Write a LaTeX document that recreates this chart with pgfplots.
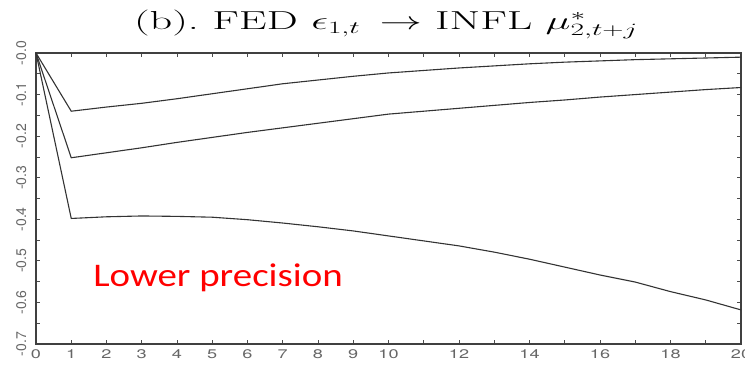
\documentclass[border=0pt]{standalone}
\usepackage{fontspec}
\usepackage{graphicx}
\usepackage{pgfplots}
\pgfplotsset{compat=1.18}
\newfontfamily\heros{TeX Gyre Heros}
\newfontfamily\herosx[FakeStretch=1.45]{TeX Gyre Heros}
\newfontfamily\carlito[FakeStretch=1.18]{Carlito}
\begin{document}
\begin{tikzpicture}
\begin{axis}[
  at={(0,0)}, anchor=south west,
  scale only axis, width=705pt, height=291pt,
  xmin=0, xmax=20, ymin=-0.7, ymax=0,
  clip=false,
  xtick={0,1,...,20},
  xticklabels={0,1,2,3,4,5,6,7,8,9,10,,12,,14,,16,,18,,20},
  ytick={0,-0.1,-0.2,-0.3,-0.4,-0.5,-0.6,-0.7},
  yticklabels={-0.0,-0.1,-0.2,-0.3,-0.4,-0.5,-0.6,-0.7},
  minor ytick={-0.05,-0.15,-0.25,-0.35,-0.45,-0.55,-0.65},
  tick align=inside,
  major tick length=4pt, minor tick length=4pt,
  axis line style={draw=black!75, line width=1.2pt},
  every tick/.style={black!70, line width=0.8pt},
  /pgf/number format/assume math mode=true,
  xticklabel style={font=\herosx\fontsize{12.5}{12.5}\selectfont, text=black!60, anchor=base, yshift=-14pt},
  yticklabel style={font=\heros\fontsize{14}{14}\selectfont, text=black!60, xshift=-10pt, rotate=90, anchor=base},
]
\addplot[draw=black!80, line width=1.1pt] coordinates {
(0,0) (1,-0.140) (2,-0.130) (3,-0.121) (4,-0.110) (5,-0.098) (6,-0.086) (7,-0.074)
(8,-0.065) (9,-0.056) (10,-0.048) (11,-0.042) (12,-0.036) (13,-0.031) (14,-0.026)
(15,-0.022) (16,-0.019) (17,-0.016) (18,-0.014) (19,-0.012) (20,-0.010)};
\addplot[draw=black!80, line width=1.1pt] coordinates {
(0,0) (1,-0.252) (2,-0.240) (3,-0.228) (4,-0.215) (5,-0.203) (6,-0.191) (7,-0.180)
(8,-0.169) (9,-0.158) (10,-0.147) (11,-0.140) (12,-0.133) (13,-0.126) (14,-0.119)
(15,-0.113) (16,-0.106) (17,-0.100) (18,-0.094) (19,-0.088) (20,-0.083)};
\addplot[draw=black!80, line width=1.1pt] coordinates {
(0,0) (1,-0.398) (2,-0.394) (3,-0.392) (4,-0.393) (5,-0.395) (6,-0.401) (7,-0.409)
(8,-0.418) (9,-0.428) (10,-0.440) (11,-0.452) (12,-0.464) (13,-0.479) (14,-0.496)
(15,-0.515) (16,-0.534) (17,-0.551) (18,-0.574) (19,-0.594) (20,-0.618)};
\node[anchor=base west, text=red, font=\carlito\fontsize{33}{36}\selectfont, inner sep=0pt] at (axis cs:1.62,-0.562) {Lower precision};
\node[anchor=base, inner sep=0pt, font=\fontsize{26}{30}\selectfont] at ([yshift=23.7pt]rel axis cs:0.4965,1)
  {\scalebox{1.7}[1]{(b).\ FED $\epsilon_{1,t}\,\rightarrow$ INFL $\mu^{*}_{2,t+j}$}};
\end{axis}
\pgfresetboundingbox
\path[use as bounding box] (-36pt,-21pt) rectangle (709pt,344pt);
\end{tikzpicture}
\end{document}
